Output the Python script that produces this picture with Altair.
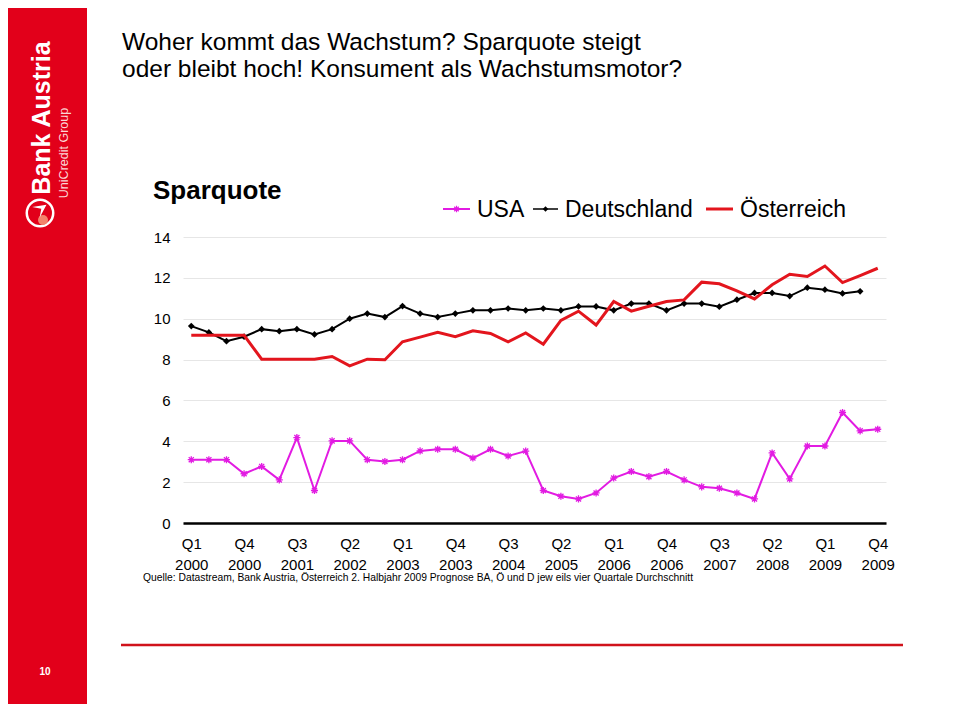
import altair as alt
import pandas as pd

# ---------------- data ----------------
quarters = [f"Q{q} {y}" for y in range(2000, 2010) for q in range(1, 5)]
tick_labels = quarters[::3]
series_names = ["USA", "Deutschland", "Österreich"]

usa = [3.10, 3.10, 3.10, 2.41, 2.77, 2.11, 4.18, 1.59, 4.02, 4.02,
       3.10, 3.01, 3.10, 3.53, 3.61, 3.61, 3.18, 3.61, 3.28, 3.52,
       1.59, 1.31, 1.18, 1.47, 2.20, 2.52, 2.27, 2.52, 2.11, 1.77,
       1.70, 1.47, 1.18, 3.43, 2.16, 3.77, 3.77, 5.41, 4.51, 4.59]

deutschland = [9.64, 9.33, 8.90, 9.12, 9.49, 9.39, 9.49, 9.23, 9.49, 10.00,
               10.25, 10.08, 10.62, 10.25, 10.08, 10.25, 10.41, 10.41, 10.50, 10.41,
               10.50, 10.41, 10.60, 10.60, 10.41, 10.74, 10.74, 10.41, 10.74, 10.74,
               10.59, 10.93, 11.26, 11.26, 11.11, 11.52, 11.42, 11.24, 11.34]

oesterreich = [9.19, 9.19, 9.19, 9.19, 8.02, 8.02, 8.02, 8.02, 8.15, 7.69,
               8.02, 7.99, 8.87, 9.10, 9.33, 9.12, 9.41, 9.28, 8.87, 9.30,
               8.75, 9.92, 10.37, 9.69, 10.84, 10.37, 10.61, 10.84, 10.92, 11.79,
               11.71, 11.36, 10.97, 11.66, 12.18, 12.07, 12.58, 11.77, 12.11, 12.47]

y_ticks = [0, 2, 4, 6, 8, 10, 12, 14]

title_lines = ["Woher kommt das Wachstum? Sparquote steigt",
               "oder bleibt hoch! Konsument als Wachstumsmotor?"]
chart_title = "Sparquote"
source_text = ("Quelle: Datastream, Bank Austria, Österreich 2. Halbjahr 2009 Prognose BA, "
               "Ö und D jew eils vier Quartale Durchschnitt")
page_number = "10"

rows = []
for name, vals in zip(series_names, [usa, deutschland, oesterreich]):
    for q, v in zip(quarters, vals):
        rows.append({"series": name, "quarter": q, "value": v})
df = pd.DataFrame(rows)

# ---------------- styles ----------------
MAG = "#E21BE2"
RED = "#E3151D"
BAND = "#E2001A"
FONT = "Liberation Sans"
ASTER = "M-1,0L1,0M0,-1L0,1M-0.72,-0.72L0.72,0.72M-0.72,0.72L0.72,-0.72"

W, H = 703, 286

x_enc = alt.X("quarter:N", sort=quarters,
              scale=alt.Scale(type="point", domain=quarters, padding=0.47),
              axis=alt.Axis(values=tick_labels, labelExpr="split(datum.label, ' ')",
                            labelAngle=0, title=None, ticks=False, grid=False,
                            domainColor="black", domainWidth=2.5,
                            labelFontSize=15, labelColor="black", labelPadding=13,
                            labelLineHeight=21, labelFont=FONT))
y_enc = alt.Y("value:Q", scale=alt.Scale(domain=[0, 14], nice=False, zero=True),
              axis=alt.Axis(values=y_ticks, grid=True, gridColor="#E6E6E6", gridWidth=1,
                            domain=False, ticks=False, labelFontSize=15,
                            labelColor="black", labelPadding=13, title=None,
                            labelFont=FONT))


def series(name):
    return alt.Chart(df).transform_filter(alt.datum.series == name)


usa_line = series("USA").mark_line(color=MAG, strokeWidth=2).encode(x=x_enc, y=y_enc)
usa_pts = series("USA").mark_point(shape=ASTER, size=50, color=MAG, filled=False,
                                   strokeWidth=1.3, opacity=1).encode(x=x_enc, y=y_enc)
de_line = series("Deutschland").mark_line(color="black", strokeWidth=2).encode(x=x_enc, y=y_enc)
de_pts = series("Deutschland").mark_point(shape="diamond", size=45, color="black",
                                          filled=True, opacity=1).encode(x=x_enc, y=y_enc)
at_line = series("Österreich").mark_line(color=RED, strokeWidth=3).encode(x=x_enc, y=y_enc)

one = pd.DataFrame({"k": [0]})


def txt(text, x, y, size, color="black", weight="normal", align="left",
        baseline="alphabetic", angle=0):
    kw = dict(fontSize=size, color=color, fontWeight=weight, align=align,
              baseline=baseline, font=FONT)
    if angle:
        kw["angle"] = angle
    return alt.Chart(pd.DataFrame({"t": [text]})).mark_text(**kw).encode(
        text="t:N", x=alt.value(x), y=alt.value(y))


# decorations (positions are pixels relative to plot origin)
band = alt.Chart(one).mark_rect(color=BAND).encode(
    x=alt.value(-190), x2=alt.value(-96), y=alt.value(-240), y2=alt.value(480))
bottom_rule = alt.Chart(one).mark_rule(color="#D0121B", strokeWidth=2.5).encode(
    x=alt.value(-62), x2=alt.value(720), y=alt.value(408))

logo_text = txt("Bank Austria", -141, -119, 25, color="white", weight="bold",
                align="center", baseline="middle", angle=270)
logo_sub = txt("UniCredit Group", -119, -84, 12.5, color="#FBD6D6",
               align="center", baseline="middle", angle=270)
logo_ring = alt.Chart(one).mark_point(shape="circle", size=700, filled=False,
                                      stroke="white", strokeWidth=2.5, opacity=1).encode(
    x=alt.value(-143), y=alt.value(-24))
logo_ball = alt.Chart(one).mark_point(shape="circle", size=100, filled=True,
                                      color="#F2836B", opacity=1).encode(
    x=alt.value(-140), y=alt.value(-17))
logo_wedge = alt.Chart(one).mark_point(
    shape="M-0.9,-0.35L0.75,-0.6L-0.05,0.9L0.15,-0.15Z", size=300, filled=True,
    color="white", opacity=1).encode(x=alt.value(-143), y=alt.value(-27))
page_no = txt(page_number, -138, 435, 10, color="white", weight="bold",
              align="center", baseline="middle")

title1 = txt(title_lines[0], -61, -187, 24.5)
title2 = txt(title_lines[1], -61, -160, 24.5)
ctitle = txt(chart_title, -30, -38, 26, weight="bold")
source = txt(source_text, -40, 341, 10.3, baseline="middle")

# legend
LY = -28
leg = []
leg_specs = [("USA", MAG, 2, 260, 287, 294, "aster"),
             ("Deutschland", "black", 1.5, 350, 375, 382, "diamond"),
             ("Österreich", RED, 3, 523, 550, 557, None)]
for name, col, sw, x0, x1, xt, mk in leg_specs:
    lc = alt.Chart(pd.DataFrame({"t": [name]}))
    leg.append(lc.mark_rule(color=col, strokeWidth=sw).encode(
        x=alt.value(x0), x2=alt.value(x1), y=alt.value(LY)))
    if mk == "aster":
        leg.append(lc.mark_point(shape=ASTER, size=40, color=col, filled=False,
                                 strokeWidth=1.2, opacity=1).encode(
            x=alt.value((x0 + x1) / 2), y=alt.value(LY)))
    elif mk == "diamond":
        leg.append(lc.mark_point(shape="diamond", size=30, color=col, filled=True,
                                 opacity=1).encode(
            x=alt.value((x0 + x1) / 2), y=alt.value(LY)))
    leg.append(lc.mark_text(fontSize=23, align="left", baseline="middle", font=FONT,
                            color="black").encode(
        text="t:N", x=alt.value(xt), y=alt.value(LY + 1)))

chart = alt.layer(
    band, bottom_rule, logo_text, logo_sub, logo_ring, logo_ball, logo_wedge, page_no,
    title1, title2, ctitle, source,
    usa_line, usa_pts, de_line, de_pts, at_line,
    *leg
).properties(
    width=W, height=H,
    padding={"left": 175, "top": 229, "right": 66, "bottom": 181},
    autosize=alt.AutoSizeParams(type="none"),
    background="white",
).configure(font=FONT).configure_view(stroke=None)

chart.save("out.html", embed_options={"renderer": "svg", "actions": False})
